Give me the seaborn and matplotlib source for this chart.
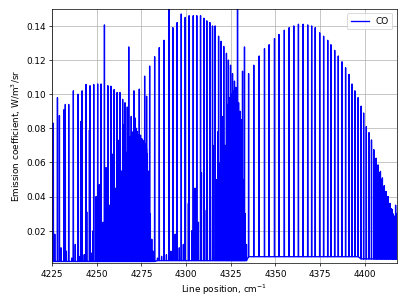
import numpy as np
import pandas as pd
import matplotlib.pyplot as plt
import seaborn as sns

# strong lines (position cm-1, peak emission W/m3/sr)
strong_pos = [4225.7, 4228.0, 4229.1, 4231.7, 4232.4, 4234.3, 4236.9, 4239.5, 4241.8, 4244.0,
              4246.2, 4248.3, 4250.5, 4252.4, 4254.3, 4256.2, 4257.9, 4259.7, 4261.4, 4263.0,
              4264.5, 4265.8, 4267.1, 4267.9, 4269.3, 4270.8, 4271.6, 4272.7, 4273.8, 4276.8,
              4277.9, 4279.6, 4282.4, 4285.0, 4287.6, 4290.4, 4292.6, 4295.0, 4297.3, 4299.5,
              4301.7, 4304.0, 4306.0, 4308.1, 4310.0, 4311.6, 4313.3, 4314.8, 4316.3, 4318.2,
              4319.6, 4321.1, 4322.6, 4323.7, 4324.9, 4326.0, 4327.1, 4328.0, 4328.8, 4329.4,
              4330.2, 4331.0, 4331.6, 4332.7, 4335.0, 4337.9, 4340.9, 4343.9, 4346.5, 4349.5,
              4352.0, 4355.0, 4357.7, 4360.3, 4362.9, 4365.5, 4368.1, 4370.3, 4372.3, 4374.8,
              4377.0, 4379.3, 4381.1, 4383.2, 4385.2, 4387.3, 4389.3, 4391.2, 4392.9, 4394.5,
              4396.3, 4398.0, 4399.4, 4400.9, 4402.4, 4403.8, 4405.1, 4406.4, 4407.5, 4408.8,
              4409.9, 4411.0, 4412.1, 4413.2, 4414.3, 4415.4, 4416.2, 4417.3]
strong_val = [0.083, 0.098, 0.0875, 0.091, 0.094, 0.094, 0.102, 0.100, 0.102, 0.1057,
              0.105, 0.1057, 0.106, 0.106, 0.1406, 0.105, 0.1047, 0.1027, 0.101, 0.101,
              0.097, 0.095, 0.0925, 0.1277, 0.087, 0.102, 0.086, 0.078, 0.103, 0.1106,
              0.0988, 0.1165, 0.122, 0.1273, 0.1316, 0.158, 0.139, 0.142, 0.147, 0.145,
              0.146, 0.146, 0.146, 0.146, 0.1445, 0.143, 0.142, 0.140, 0.140, 0.134,
              0.131, 0.128, 0.124, 0.120, 0.117, 0.112, 0.1077, 0.104, 0.160, 0.095,
              0.090, 0.085, 0.1135, 0.1277, 0.112, 0.117, 0.1224, 0.1267, 0.129, 0.1326,
              0.135, 0.1375, 0.139, 0.140, 0.141, 0.141, 0.1406, 0.140, 0.139, 0.136,
              0.134, 0.1316, 0.129, 0.1257, 0.1224, 0.119, 0.1155, 0.1116, 0.106, 0.102,
              0.098, 0.093, 0.089, 0.081, 0.0775, 0.0732, 0.0675, 0.0625, 0.0586, 0.0548,
              0.051, 0.0464, 0.043, 0.040, 0.036, 0.0325, 0.029, 0.035]

# weaker overlapping lines
weak_pos = [4226.5, 4230.0, 4233.0, 4236.0, 4238.0, 4240.0, 4241.0, 4243.0, 4244.4, 4245.9,
            4246.8, 4248.0, 4249.6, 4251.5, 4253.5, 4255.2, 4257.0, 4258.5, 4260.3, 4262.1,
            4263.8, 4264.9, 4266.3, 4266.9, 4267.6, 4268.1, 4268.6, 4269.9, 4270.3, 4271.2,
            4271.8, 4272.2, 4273.2, 4273.6, 4274.0, 4274.5, 4274.9, 4275.2, 4275.8, 4276.3,
            4276.9, 4277.3, 4277.8, 4278.3, 4278.8, 4279.2, 4280.0, 4280.8,
            4281.5, 4284.0, 4286.3, 4289.0, 4291.5, 4293.9, 4296.2, 4298.5, 4301.3, 4303.2,
            4305.0, 4306.9, 4308.6, 4310.4, 4311.9, 4313.6, 4315.0, 4316.8, 4317.8, 4319.2,
            4320.6, 4321.8, 4323.0, 4323.4, 4324.3, 4325.2, 4325.6, 4326.4, 4326.8, 4327.5,
            4328.4, 4329.0, 4329.8, 4330.5, 4331.3, 4332.0, 4333.0, 4333.8,
            4405.7, 4406.9, 4408.1, 4409.3, 4410.4, 4411.5, 4412.6, 4413.7, 4414.8, 4415.8,
            4416.7, 4417.7]
weak_val = [0.018, 0.010, 0.008, 0.004, 0.012, 0.005, 0.084, 0.006, 0.031, 0.079,
            0.007, 0.020, 0.040, 0.047, 0.025, 0.057, 0.035, 0.065, 0.045, 0.073,
            0.055, 0.082, 0.062, 0.066, 0.070, 0.073, 0.075, 0.072, 0.078, 0.074,
            0.075, 0.080, 0.076, 0.074, 0.075, 0.076, 0.073, 0.074, 0.073, 0.072,
            0.071, 0.070, 0.068, 0.065, 0.055, 0.045, 0.030, 0.015,
            0.008, 0.004, 0.005, 0.006, 0.008, 0.018, 0.010, 0.012, 0.036, 0.020,
            0.045, 0.025, 0.054, 0.032, 0.061, 0.040, 0.070, 0.050, 0.078, 0.060,
            0.087, 0.070, 0.094, 0.080, 0.098, 0.090, 0.100, 0.096, 0.102, 0.095,
            0.090, 0.085, 0.080, 0.070, 0.060, 0.050, 0.030, 0.012,
            0.062, 0.058, 0.054, 0.050, 0.046, 0.043, 0.040, 0.036, 0.033, 0.030,
            0.028, 0.030]

# continuum level between lines
cont_start = [4225, 4283, 4334, 4398]
cont_level = [0.002, 0.0025, 0.0048, 0.0035]

pos = np.array(strong_pos + weak_pos)
val = np.array(strong_val + weak_val)
order = np.argsort(pos)
pos, val = pos[order], val[order]
floor = np.array(cont_level)[np.searchsorted(cont_start, pos, side='right') - 1]

hw = 0.08
x = np.column_stack([pos - hw, pos, pos + hw]).ravel()
y = np.column_stack([floor, val, floor]).ravel()
spec = pd.DataFrame({'nu': x, 'eps': y})

fig, ax = plt.subplots(figsize=(6.4, 4.8), dpi=63.6)
fig.subplots_adjust(left=0.128, right=0.975, top=0.97, bottom=0.137)

sns.lineplot(data=spec, x='nu', y='eps', sort=False, estimator=None,
             color='blue', lw=1.5, label='CO', ax=ax)

ax.set_xlim(4225, 4418)
ax.set_ylim(0.001, 0.15)
ax.set_xticks(np.arange(4225, 4401, 25))
ax.set_yticks(np.arange(0.02, 0.141, 0.02))
ax.set_xlabel('Line position, cm$^{-1}$')
ax.set_ylabel('Emission coefficient, W/m$^3$/sr')
ax.grid(True)
ax.legend(loc='upper right')

plt.savefig('out.png')
